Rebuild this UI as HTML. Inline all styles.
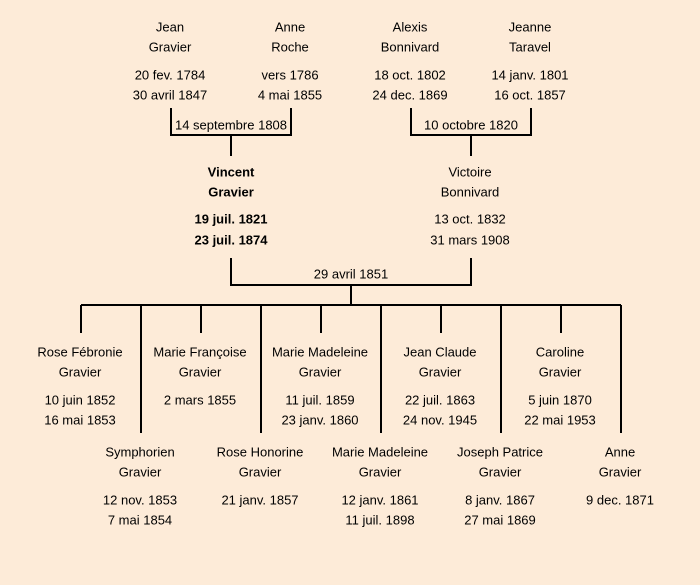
<!DOCTYPE html>
<html><head><meta charset="utf-8"><style>
html,body{margin:0;padding:0;background:#fdebd8;}
svg{display:block}
text{font-family:"Liberation Sans","DejaVu Sans",sans-serif;font-size:13px;fill:#000;text-anchor:middle;dominant-baseline:central}
.b{font-weight:bold}
</style></head><body>
<svg width="700" height="585" viewBox="0 0 700 585" xmlns="http://www.w3.org/2000/svg">
<rect width="700" height="585" fill="#fdebd8"/>
<g stroke="#000" stroke-width="2" fill="none">
<path d="M171 108V135H291V108M231 135V156"/>
<path d="M411 108V135H531V108M471 135V156"/>
<path d="M231 258V285H471V258M351 285V305"/>
<path d="M81 305H621"/>
<path d="M81 305V333M201 305V333M321 305V333M441 305V333M561 305V333"/>
<path d="M141 305V433M261 305V433M381 305V433M501 305V433M621 305V433"/>
</g>
<text x="170" y="27">Jean</text><text x="170" y="47">Gravier</text>
<text x="170" y="75">20 fev. 1784</text><text x="170" y="95">30 avril 1847</text>
<text x="290" y="27">Anne</text><text x="290" y="47">Roche</text>
<text x="290" y="75">vers 1786</text><text x="290" y="95">4 mai 1855</text>
<text x="410" y="27">Alexis</text><text x="410" y="47">Bonnivard</text>
<text x="410" y="75">18 oct. 1802</text><text x="410" y="95">24 dec. 1869</text>
<text x="530" y="27">Jeanne</text><text x="530" y="47">Taravel</text>
<text x="530" y="75">14 janv. 1801</text><text x="530" y="95">16 oct. 1857</text>
<text x="231" y="125">14 septembre 1808</text>
<text x="471" y="125">10 octobre 1820</text>
<text class="b" x="231" y="172">Vincent</text><text class="b" x="231" y="192">Gravier</text>
<text class="b" x="231" y="219">19 juil. 1821</text><text class="b" x="231" y="240">23 juil. 1874</text>
<text x="470" y="172">Victoire</text><text x="470" y="192">Bonnivard</text>
<text x="470" y="219">13 oct. 1832</text><text x="470" y="240">31 mars 1908</text>
<text x="351" y="274">29 avril 1851</text>
<text x="80" y="352">Rose Fébronie</text><text x="80" y="372">Gravier</text>
<text x="80" y="400">10 juin 1852</text><text x="80" y="420">16 mai 1853</text>
<text x="200" y="352">Marie Françoise</text><text x="200" y="372">Gravier</text>
<text x="200" y="400">2 mars 1855</text>
<text x="320" y="352">Marie Madeleine</text><text x="320" y="372">Gravier</text>
<text x="320" y="400">11 juil. 1859</text><text x="320" y="420">23 janv. 1860</text>
<text x="440" y="352">Jean Claude</text><text x="440" y="372">Gravier</text>
<text x="440" y="400">22 juil. 1863</text><text x="440" y="420">24 nov. 1945</text>
<text x="560" y="352">Caroline</text><text x="560" y="372">Gravier</text>
<text x="560" y="400">5 juin 1870</text><text x="560" y="420">22 mai 1953</text>
<text x="140" y="452">Symphorien</text><text x="140" y="472">Gravier</text>
<text x="140" y="500">12 nov. 1853</text><text x="140" y="520">7 mai 1854</text>
<text x="260" y="452">Rose Honorine</text><text x="260" y="472">Gravier</text>
<text x="260" y="500">21 janv. 1857</text>
<text x="380" y="452">Marie Madeleine</text><text x="380" y="472">Gravier</text>
<text x="380" y="500">12 janv. 1861</text><text x="380" y="520">11 juil. 1898</text>
<text x="500" y="452">Joseph Patrice</text><text x="500" y="472">Gravier</text>
<text x="500" y="500">8 janv. 1867</text><text x="500" y="520">27 mai 1869</text>
<text x="620" y="452">Anne</text><text x="620" y="472">Gravier</text>
<text x="620" y="500">9 dec. 1871</text>
</svg>
</body></html>
